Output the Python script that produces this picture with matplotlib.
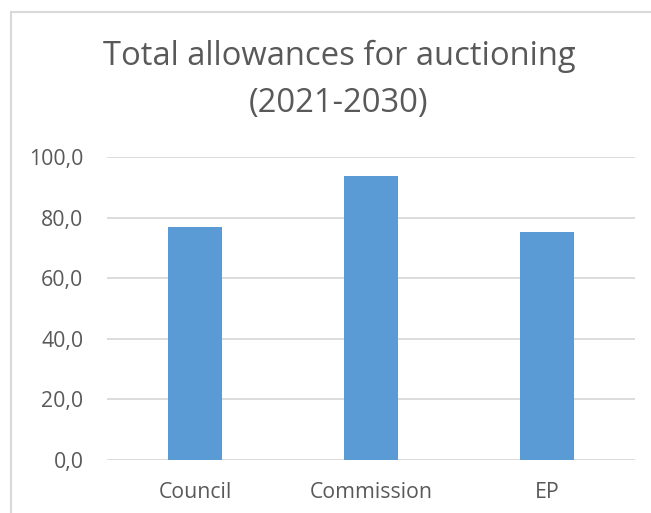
import matplotlib.pyplot as plt
from matplotlib.lines import Line2D
from matplotlib.ticker import FuncFormatter

# Auctioning volumes by institution position
institutions = ['Council', 'Commission', 'EP']
allowances = [77.1, 93.9, 75.4]
y_ticks = [0, 20, 40, 60, 80, 100]

BAR_COLOR = '#5B9BD5'
TEXT_COLOR = '#595959'
GRID_COLOR = '#D9D9D9'

plt.rcParams['font.family'] = ['Open Sans', 'DejaVu Sans']

W, H = 651, 513
fig = plt.figure(figsize=(W / 100, H / 100), dpi=100)
ax = fig.add_axes([107 / W, 1 - 460 / H, 528 / W, (460 - 157.3) / H])

x = range(len(institutions))
ax.bar(x, allowances, width=0.31, color=BAR_COLOR, zorder=3)

ax.set_xlim(-0.5, len(institutions) - 0.5)
ax.set_ylim(0, 100)
ax.set_yticks(y_ticks)
ax.yaxis.set_major_formatter(FuncFormatter(lambda v, _: f'{v:.1f}'.replace('.', ',')))
ax.set_xticks(list(x))
ax.set_xticklabels(institutions)

ax.grid(axis='y', color=GRID_COLOR, linewidth=1.3, zorder=0)
ax.tick_params(axis='both', length=0, labelsize=15.3, colors=TEXT_COLOR)
ax.tick_params(axis='y', pad=17)
ax.tick_params(axis='x', pad=15.5)
for spine in ax.spines.values():
    spine.set_visible(False)

fig.text(339 / W, 1 - 80 / H, 'Total allowances for auctioning\n(2021-2030)',
         ha='center', va='center', fontsize=23.6, color=TEXT_COLOR,
         linespacing=1.58)

# chart frame (left and top edges)
fig.add_artist(Line2D([10.5 / W, 10.5 / W], [0, 1 - 12 / H], transform=fig.transFigure,
                      color=GRID_COLOR, linewidth=1.5))
fig.add_artist(Line2D([10.5 / W, 1], [1 - 12 / H, 1 - 12 / H], transform=fig.transFigure,
                      color=GRID_COLOR, linewidth=1.5))

fig.savefig('out.png', dpi=100, facecolor='white')
